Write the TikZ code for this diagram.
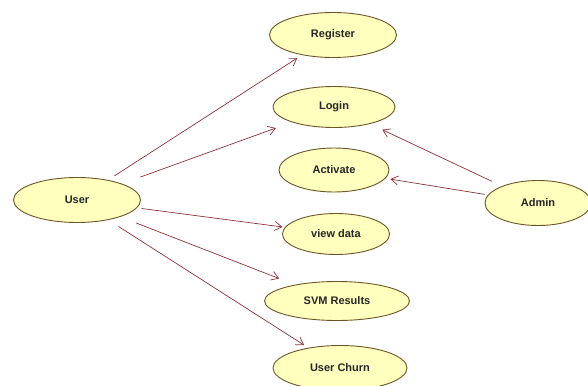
\documentclass[tikz,border=0pt]{standalone}
\usepackage{fontspec}
\setmainfont{Liberation Sans}
\usetikzlibrary{arrows.meta,shapes.geometric}
\definecolor{ufill}{RGB}{255,255,190}
\definecolor{uedge}{RGB}{110,85,40}
\definecolor{uline}{RGB}{140,50,55}
\begin{document}
\begin{tikzpicture}[x=1pt,y=-1pt,
  uc/.style={ellipse,draw=uedge,fill=ufill,line width=0.9pt,inner sep=0pt,
    font=\fontsize{11}{13}\selectfont\bfseries,text=black!85},
  assoc/.style={draw=uline,line width=0.7pt,-{Straight Barb[length=7pt,width=9pt]}}]
\useasboundingbox (0,0) rectangle (588,385);
\node[uc,minimum width=127pt,minimum height=45pt] (user) at (77,200) {User};
\node[uc,minimum width=106pt,minimum height=45pt] (admin) at (538,203) {Admin};
\node[uc,minimum width=127pt,minimum height=45pt] (reg) at (333,35) {Register};
\node[uc,minimum width=122pt,minimum height=41pt] (login) at (334,107) {Login};
\node[uc,minimum width=110pt,minimum height=44pt] (act) at (334,170) {Activate};
\node[uc,minimum width=107pt,minimum height=41pt] (view) at (336,234) {view data};
\node[uc,minimum width=145pt,minimum height=39pt] (svm) at (337,301) {SVM Results};
\node[uc,minimum width=134pt,minimum height=45pt] (churn) at (340,368) {User Churn};
\draw[assoc,shorten <=7.5pt,shorten >=5.5pt] (user) -- (reg);
\draw[assoc,shorten <=19.5pt,shorten >=17pt] (user) -- (login);
\draw[assoc,shorten <=4.5pt,shorten >=2.5pt] (user) -- (view);
\draw[assoc,shorten <=17pt,shorten >=17pt] (user) -- (svm);
\draw[assoc,shorten <=12pt,shorten >=5pt] (user) -- (churn);
\draw[assoc,shorten <=11pt,shorten >=13.5pt] (admin) -- (login);
\draw[assoc,shorten <=3pt,shorten >=5pt] (admin) -- (act);
\end{tikzpicture}
\end{document}
